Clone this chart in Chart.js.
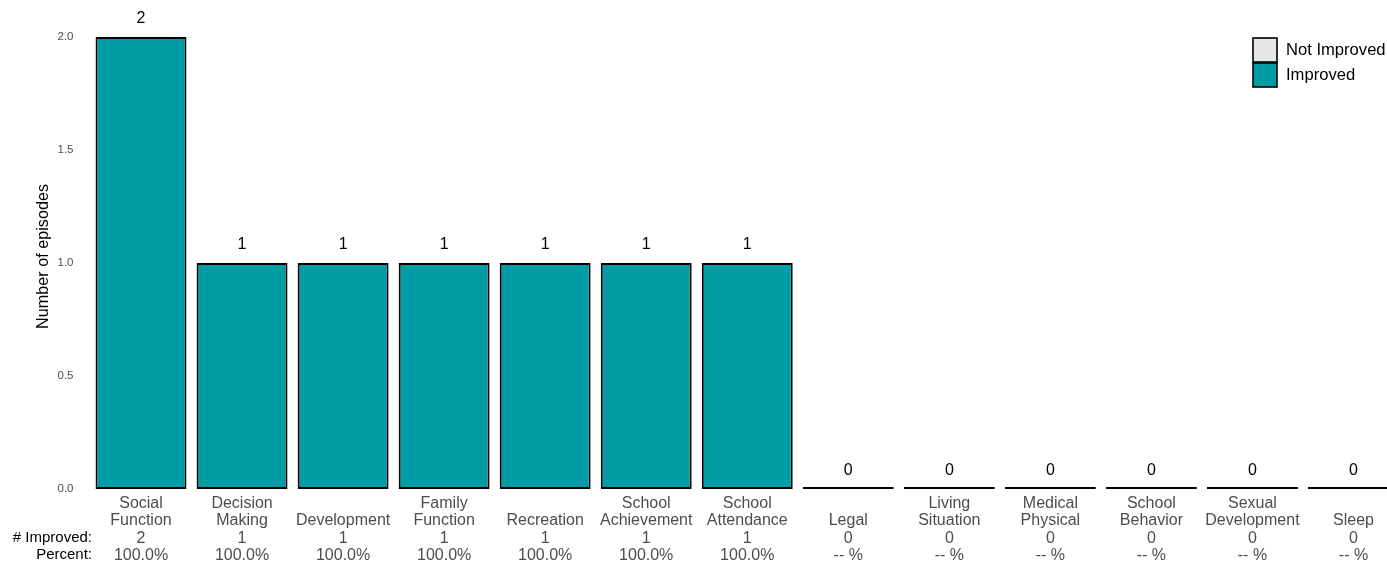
<!DOCTYPE html>
<html>
<head>
<meta charset="utf-8">
<script src="https://cdn.jsdelivr.net/npm/chart.js@4/dist/chart.umd.min.js"></script>
<style>
  html, body { margin: 0; padding: 0; background: #fff; overflow: hidden; }
  #wrap { width: 1404px; height: 567px; }
</style>
</head>
<body>
<div id="wrap"><canvas id="outcomes"></canvas></div>
<script>
var categories = [
  ["Social", "Function"], ["Decision", "Making"], ["Development"], ["Family", "Function"],
  ["Recreation"], ["School", "Achievement"], ["School", "Attendance"], ["Legal"],
  ["Living", "Situation"], ["Medical", "Physical"], ["School", "Behavior"],
  ["Sexual", "Development"], ["Sleep"]
];
var improved    = [2, 1, 1, 1, 1, 1, 1, 0, 0, 0, 0, 0, 0];
var notImproved = [0, 0, 0, 0, 0, 0, 0, 0, 0, 0, 0, 0, 0];
var yTicks = [0, 0.5, 1, 1.5, 2];
var legendNames = ["Not Improved", "Improved"];
var rowNames = ["# Improved:", "Percent:"];

var teal = "#009ca6";
var grey = "#e6e6e6";
var font = "'Liberation Sans', Arial, sans-serif";

function percentText(i) {
  var total = improved[i] + notImproved[i];
  if (total === 0) return "-- %";
  return (100 * improved[i] / total).toFixed(1) + "%";
}

// tick label: name lines (padded to 2) + count + percent
var labels = categories.map(function(c, i) {
  var lines = c.length === 1 ? ["", c[0]] : c.slice();
  return lines.concat([String(improved[i]), percentText(i)]);
});

var extras = {
  id: "extras",
  afterDatasetsDraw: function(chart) {
    var ctx = chart.ctx;
    var meta = chart.getDatasetMeta(1);
    ctx.save();
    ctx.fillStyle = "#000";
    ctx.font = "16px " + font;
    ctx.textAlign = "center";
    ctx.textBaseline = "middle";
    var y = chart.scales.y;
    meta.data.forEach(function(bar, i) {
      ctx.fillText(String(improved[i]), bar.x, y.getPixelForValue(improved[i]) - 18);
    });

    // row labels on the left of the x axis
    ctx.font = "15px " + font;
    ctx.textAlign = "right";
    ctx.fillText(rowNames[0], 92, 537.5);
    ctx.fillText(rowNames[1], 92, 555);

    // legend
    var lx = 1253, ly = 38, bs = 24;
    [grey, teal].forEach(function(col, k) {
      ctx.fillStyle = col;
      ctx.fillRect(lx, ly + k * (bs + 1), bs, bs);
      ctx.strokeStyle = "#000";
      ctx.lineWidth = 1.6;
      ctx.strokeRect(lx, ly + k * (bs + 1), bs, bs);
      ctx.fillStyle = "#000";
      ctx.font = "16.6px " + font;
      ctx.textAlign = "left";
      ctx.fillText(legendNames[k], lx + 33, ly + k * (bs + 1) + bs / 2 + 0.5);
    });
    ctx.restore();
  }
};

new Chart(document.getElementById("outcomes"), {
  type: "bar",
  data: {
    labels: labels,
    datasets: [{
      label: legendNames[0],
      data: notImproved,
      backgroundColor: grey,
      borderWidth: 0,
      barPercentage: 0.9,
      categoryPercentage: 1,
      order: 2
    }, {
      label: legendNames[1],
      data: improved,
      backgroundColor: function(c) { return c.raw === 0 ? "#000" : teal; },
      borderColor: "#000",
      borderWidth: 2,
      borderSkipped: false,
      minBarLength: 2,
      barPercentage: 0.9,
      categoryPercentage: 1,
      clip: false,
      order: 1
    }]
  },
  options: {
    responsive: true,
    maintainAspectRatio: false,
    animation: false,
    layout: { padding: { top: 7, right: 0, bottom: 0, left: 0 } },
    plugins: { legend: { display: false }, tooltip: { enabled: false } },
    scales: {
      x: {
        stacked: true,
        grid: { display: false, drawTicks: false },
        border: { display: false },
        ticks: {
          color: "#4d4d4d",
          font: { family: font, size: 16, lineHeight: 1.08 },
          padding: 6,
          maxRotation: 0,
          autoSkip: false
        },
        afterFit: function(s) { s.height = 78; }
      },
      y: {
        stacked: true,
        min: 0,
        max: 2.058,
        grid: { display: false, drawTicks: false },
        border: { display: false },
        afterBuildTicks: function(s) {
          s.ticks = yTicks.map(function(v) { return { value: v }; });
        },
        ticks: {
          color: "#4d4d4d",
          font: { family: font, size: 11.5 },
          padding: 17,
          callback: function(v) { return Number(v).toFixed(1); }
        },
        title: {
          display: true,
          text: "Number of episodes",
          color: "#000",
          font: { family: font, size: 16.2 },
          padding: { top: 34, bottom: 0 }
        },
        afterFit: function(s) { s.width = 90.5; }
      }
    }
  },
  plugins: [extras]
});
</script>
</body>
</html>
